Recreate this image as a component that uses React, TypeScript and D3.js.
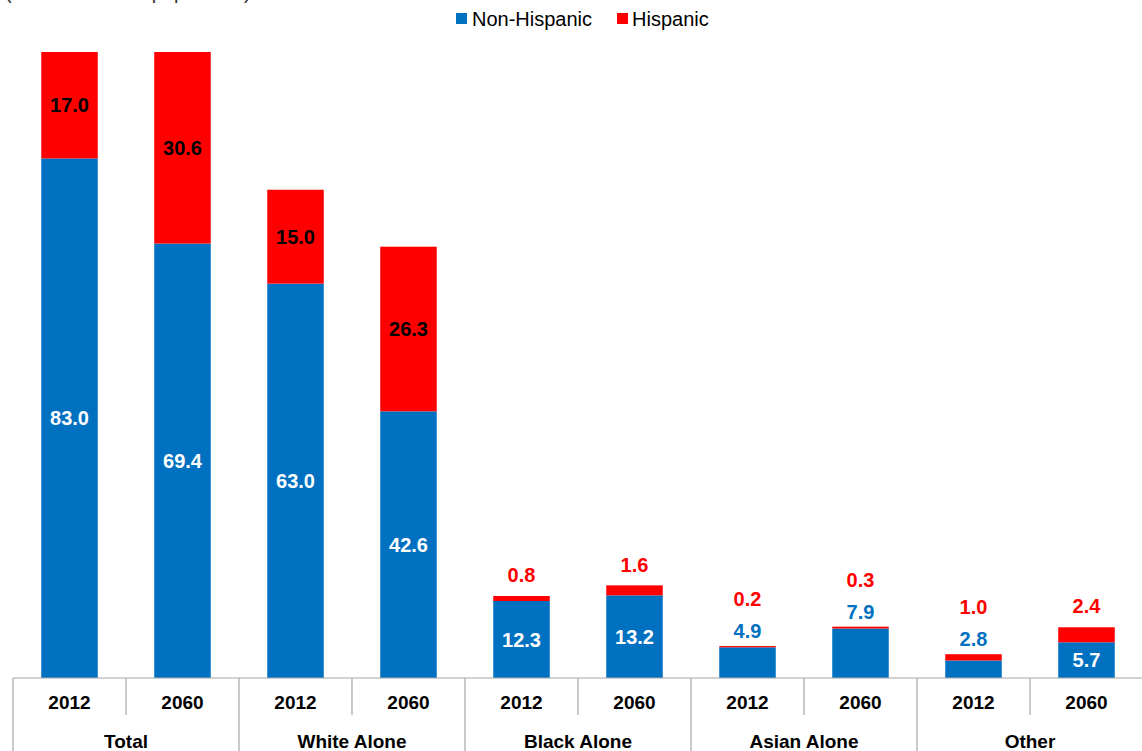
import React from "react";
import * as d3 from "d3";

const groups = ["Total", "White Alone", "Black Alone", "Asian Alone", "Other"];
const years = ["2012", "2060"];
const nonHispanic = [83.0, 69.4, 63.0, 42.6, 12.3, 13.2, 4.9, 7.9, 2.8, 5.7];
const hispanic = [17.0, 30.6, 15.0, 26.3, 0.8, 1.6, 0.2, 0.3, 1.0, 2.4];
const nonHispLabelInside = [true, true, true, true, true, true, false, false, false, true];
const hispLabelInside = [true, true, true, true, false, false, false, false, false, false];
const seriesNames = ["Non-Hispanic", "Hispanic"];
const subtitle = "(Percent of total population)";

const W = 1142;
const H = 751;
const BLUE = "#0070C0";
const RED = "#FF0000";
const FONT = "Liberation Sans, Arial, sans-serif";

export default function App() {
  const keys = groups.flatMap((g) => years.map((y) => `${g}|${y}`));
  const x = d3.scaleBand<string>().domain(keys).range([13, 1143]).padding(0);
  const y = d3.scaleLinear().domain([0, 100]).range([678, 52]);
  const bw = x.bandwidth();
  const barW = bw * 0.5;
  const baseY = y(0);

  const bars = keys.map((k, i) => {
    const cx = (x(k) as number) + bw / 2;
    const nh = nonHispanic[i];
    const hi = hispanic[i];
    const topNh = y(nh);
    const topAll = y(nh + hi);
    const labels: any[] = [];
    const aboveCount = (nonHispLabelInside[i] ? 0 : 1) + (hispLabelInside[i] ? 0 : 1);
    if (nonHispLabelInside[i]) {
      labels.push({ v: nh, y: (topNh + baseY) / 2, fill: "#fff" });
    } else {
      labels.push({ v: nh, y: topAll - 15, fill: BLUE });
    }
    if (hispLabelInside[i]) {
      labels.push({ v: hi, y: (topAll + topNh) / 2, fill: "#000" });
    } else {
      labels.push({ v: hi, y: aboveCount === 2 ? topAll - 47 : topAll - 21, fill: RED });
    }
    return { k, i, cx, topNh, topAll, labels };
  });

  return (
    <div style={{ position: "fixed", top: 0, left: 0 }}>
      <svg width={W} height={H} style={{ display: "block", overflow: "hidden" }} fontFamily={FONT}>
        <rect width={W} height={H} fill="#fff" />
        <text x={5} y={-1} fontSize={20} fill="#333">{subtitle}</text>
        {/* legend */}
        <g>
          <rect x={456} y={13} width={11} height={11} fill={BLUE} />
          <text x={472} y={26} fontSize={20} fill="#000">{seriesNames[0]}</text>
          <rect x={617} y={13} width={11} height={11} fill={RED} />
          <text x={632} y={26} fontSize={20} fill="#000">{seriesNames[1]}</text>
        </g>
        {/* bars */}
        {bars.map((b) => (
          <g key={b.k}>
            <rect x={b.cx - barW / 2} y={b.topNh} width={barW} height={baseY - b.topNh} fill={BLUE} />
            <rect x={b.cx - barW / 2} y={b.topAll} width={barW} height={b.topNh - b.topAll} fill={RED} />
            {b.labels.map((l: any, j: number) => (
              <text key={j} x={b.cx} y={l.y} dy="0.36em" textAnchor="middle" fontSize={20}
                fontWeight="bold" fill={l.fill}>{d3.format(".1f")(l.v)}</text>
            ))}
          </g>
        ))}
        {/* axis */}
        <line x1={13} x2={W} y1={baseY} y2={baseY} stroke="#A6A6A6" strokeWidth={1.2} />
        {keys.map((k, i) => {
          const x0 = x(k) as number;
          const isGroupStart = i % 2 === 0;
          return (
            <line key={"d" + k} x1={x0} x2={x0} y1={baseY} y2={isGroupStart ? H : 715}
              stroke="#A6A6A6" strokeWidth={1.2} />
          );
        })}
        {keys.map((k, i) => (
          <text key={"y" + k} x={(x(k) as number) + bw / 2} y={709} textAnchor="middle"
            fontSize={19} fontWeight="bold" fill="#000">{years[i % 2]}</text>
        ))}
        {groups.map((g, gi) => {
          const x0 = x(`${g}|${years[0]}`) as number;
          return (
            <text key={"g" + g} x={x0 + bw} y={748} textAnchor="middle" fontSize={19}
              fontWeight="bold" fill="#000">{g}</text>
          );
        })}
      </svg>
    </div>
  );
}
